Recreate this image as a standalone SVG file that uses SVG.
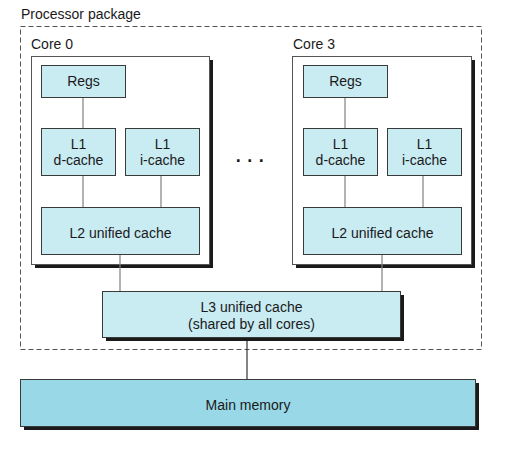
<svg xmlns="http://www.w3.org/2000/svg" width="530" height="462" viewBox="0 0 530 462">
<style>
text{font-family:"Liberation Sans",Arial,sans-serif;font-size:14px;fill:#1a1a1a}
.c{text-anchor:middle}
.box{fill:#c9ebf2;stroke:#3a3a3a;stroke-width:1}
.mem{fill:#99d8e6;stroke:#3a3a3a;stroke-width:1}
.core{fill:#fff;stroke:#555;stroke-width:1}
.sh{fill:#1a1a1a}
.ln{stroke:#808080;stroke-width:1.2;fill:none}
.ld{stroke:#333;stroke-width:1.2;fill:none}
</style>
<rect width="530" height="462" fill="#fff"/>
<g id="package">
<rect x="20.5" y="26.5" width="461" height="323" fill="none" stroke="#555" stroke-width="1" stroke-dasharray="5,3"/>
<text x="21" y="19">Processor package</text>
</g>
<g id="core0">
<text x="31" y="49">Core 0</text>
<rect class="sh" x="35" y="60" width="178" height="208"/>
<rect class="core" x="31.5" y="56.5" width="178" height="208"/>
</g>
<g id="core3">
<text x="293" y="49">Core 3</text>
<rect class="sh" x="296" y="60" width="179" height="208"/>
<rect class="core" x="292.5" y="56.5" width="179" height="208"/>
</g>
<g id="connectors">
<line class="ln" x1="83" y1="97" x2="83" y2="128"/>
<line class="ln" x1="83" y1="176" x2="83" y2="207"/>
<line class="ln" x1="161" y1="176" x2="161" y2="207"/>
<line class="ln" x1="120" y1="254" x2="120" y2="291"/>
<line class="ln" x1="345" y1="97" x2="345" y2="128"/>
<line class="ln" x1="345" y1="176" x2="345" y2="207"/>
<line class="ln" x1="423" y1="176" x2="423" y2="207"/>
<line class="ln" x1="382" y1="254" x2="382" y2="291"/>
<line class="ld" x1="247" y1="337" x2="247" y2="379"/>
</g>
<g id="core0-regs"><rect class="box" x="41.5" y="65.5" width="84" height="32"/><text class="c" x="83.5" y="86">Regs</text></g>
<g id="core0-l1d"><rect class="box" x="41.5" y="128.5" width="74" height="47"/><text class="c" x="78.5" y="149">L1</text><text class="c" x="78.5" y="165">d-cache</text></g>
<g id="core0-l1i"><rect class="box" x="125.5" y="128.5" width="74" height="47"/><text class="c" x="162.5" y="149">L1</text><text class="c" x="162.5" y="165">i-cache</text></g>
<g id="core0-l2"><rect class="box" x="41.5" y="207.5" width="158" height="47"/><text class="c" x="120.5" y="238">L2 unified cache</text></g>
<g id="ellipsis"><text class="c" x="253" y="162" style="font-size:18px;font-weight:bold;letter-spacing:6.5px">...</text></g>
<g id="core3-regs"><rect class="box" x="303.5" y="65.5" width="84" height="32"/><text class="c" x="345.5" y="86">Regs</text></g>
<g id="core3-l1d"><rect class="box" x="303.5" y="128.5" width="74" height="47"/><text class="c" x="340.5" y="149">L1</text><text class="c" x="340.5" y="165">d-cache</text></g>
<g id="core3-l1i"><rect class="box" x="387.5" y="128.5" width="74" height="47"/><text class="c" x="424.5" y="149">L1</text><text class="c" x="424.5" y="165">i-cache</text></g>
<g id="core3-l2"><rect class="box" x="303.5" y="207.5" width="158" height="47"/><text class="c" x="382.5" y="238">L2 unified cache</text></g>
<g id="l3">
<rect class="sh" x="106" y="295" width="298" height="46"/>
<rect class="box" x="102.5" y="291.5" width="298" height="46"/>
<text class="c" x="251.5" y="312">L3 unified cache</text>
<text class="c" x="251.5" y="329">(shared by all cores)</text>
</g>
<g id="main-memory">
<rect class="sh" x="24" y="383" width="455" height="47"/>
<rect class="mem" x="20.5" y="379.5" width="455" height="47"/>
<text class="c" x="248" y="410">Main memory</text>
</g>
</svg>
